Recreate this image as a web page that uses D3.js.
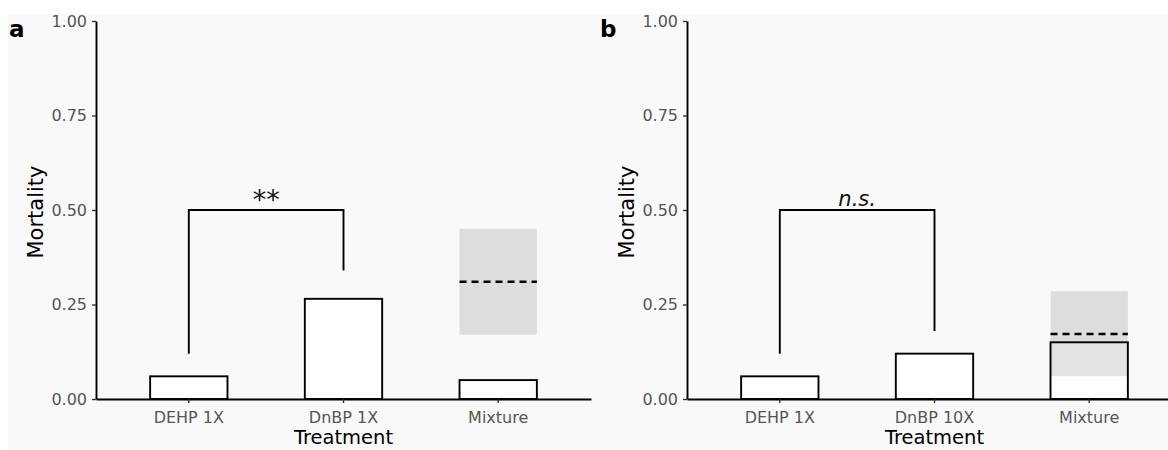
<!DOCTYPE html>
<html lang="en">
<head>
    <meta charset="UTF-8">
    <title>Mortality by treatment</title>
    <script src="https://d3js.org/d3.v7.min.js"></script>
    <style>
        body {
            margin: 0;
            background-color: #fff;
        }
        text {
            font-family: "DejaVu Sans", sans-serif;
        }
        .axis path, .axis line {
            stroke: #000;
            stroke-width: 1.9px;
        }
        .axis .tick line {
            stroke: #333;
            stroke-width: 1.4px;
        }
        .axis text {
            fill: #555;
            font-size: 16px;
        }
        .bar {
            fill: #fff;
            stroke: #000;
            stroke-width: 1.9px;
        }
        .bracket {
            fill: none;
            stroke: #000;
            stroke-width: 1.9px;
        }
    </style>
</head>
<body>
    <div id="chart"></div>

    <script>
    // Observed mortality per treatment
    const treatmentsA = ["DEHP 1X", "DnBP 1X", "Mixture"];
    const mortalityA = [0.06, 0.265, 0.05];
    const treatmentsB = ["DEHP 1X", "DnBP 10X", "Mixture"];
    const mortalityB = [0.06, 0.12, 0.15];

    // Predicted mixture mortality: [mean, lower, upper]
    const predictedA = [0.31, 0.17, 0.45];
    const predictedB = [0.172, 0.06, 0.285];

    // Significance brackets: [left leg end, right leg end, top]
    const bracketA = [0.12, 0.34, 0.50];
    const bracketB = [0.12, 0.18, 0.50];
    const signifLabels = ["**", "n.s."];

    const panelLabels = ["a", "b"];
    const yTicks = [0, 0.25, 0.50, 0.75, 1.00];

    // Layout of the figure
    const W = 1168, H = 450;
    const panelLeft = [96, 687];
    const panelWidth = 495;
    const plotTop = 21, plotBottom = 399;

    const svg = d3.select("#chart").append("svg")
        .attr("width", W)
        .attr("height", H);

    // light grey figure background
    svg.append("rect")
        .attr("x", 8).attr("y", 14)
        .attr("width", W - 8).attr("height", H - 14)
        .attr("fill", "#f9f9f9");

    const y = d3.scaleLinear().domain([0, 1]).range([plotBottom, plotTop]);

    drawPanel(0, treatmentsA, mortalityA, predictedA, bracketA);
    drawPanel(1, treatmentsB, mortalityB, predictedB, bracketB);

    function drawPanel(i, cats, vals, pred, bracket) {
        const x0 = panelLeft[i];
        const x = d3.scaleBand()
            .domain(cats)
            .range([x0, x0 + panelWidth])
            .paddingInner(0.5)
            .paddingOuter(0.35);
        const mid = c => x(c) + x.bandwidth() / 2;

        const g = svg.append("g");

        // Bars
        g.selectAll("rect.bar")
            .data(cats)
            .join("rect")
            .attr("class", "bar")
            .attr("x", d => x(d))
            .attr("width", x.bandwidth())
            .attr("y", (d, k) => y(vals[k]))
            .attr("height", (d, k) => y(0) - y(vals[k]));

        // Predicted interval for the mixture
        const mix = cats[cats.length - 1];
        g.append("rect")
            .attr("x", x(mix))
            .attr("width", x.bandwidth())
            .attr("y", y(pred[2]))
            .attr("height", y(pred[1]) - y(pred[2]))
            .attr("fill", "#000")
            .attr("fill-opacity", 0.11);

        g.append("line")
            .attr("x1", x(mix)).attr("x2", x(mix) + x.bandwidth())
            .attr("y1", y(pred[0])).attr("y2", y(pred[0]))
            .attr("stroke", "#000")
            .attr("stroke-width", 2.5)
            .attr("stroke-dasharray", "7,5");

        // Significance bracket
        const bx1 = mid(cats[0]), bx2 = mid(cats[1]);
        g.append("path")
            .attr("class", "bracket")
            .attr("d", `M ${bx1} ${y(bracket[0])} L ${bx1} ${y(bracket[2])}
                        L ${bx2} ${y(bracket[2])} L ${bx2} ${y(bracket[1])}`);

        g.append("text")
            .attr("x", (bx1 + bx2) / 2)
            .attr("y", i === 0 ? y(bracket[2]) - 1 : y(bracket[2]) - 4)
            .attr("text-anchor", "middle")
            .attr("font-size", i === 0 ? "27px" : "21px")
            .attr("font-style", i === 0 ? "normal" : "italic")
            .attr("fill", "#111")
            .text(signifLabels[i]);

        // Axes
        g.append("g")
            .attr("class", "axis")
            .attr("transform", `translate(${x0},0)`)
            .call(d3.axisLeft(y)
                .tickValues(yTicks)
                .tickFormat(d3.format(".2f"))
                .tickSize(4)
                .tickSizeOuter(0)
                .tickPadding(5));

        g.append("g")
            .attr("class", "axis")
            .attr("transform", `translate(0,${plotBottom})`)
            .call(d3.axisBottom(x)
                .tickSize(4)
                .tickSizeOuter(0)
                .tickPadding(9));

        // Axis titles
        g.append("text")
            .attr("transform", `translate(${x0 - 53},${(plotTop + plotBottom) / 2 + 2}) rotate(-90)`)
            .attr("text-anchor", "middle")
            .attr("font-size", "21px")
            .attr("fill", "#000")
            .text("Mortality");

        g.append("text")
            .attr("x", x0 + 495 / 2)
            .attr("y", 444)
            .attr("text-anchor", "middle")
            .attr("font-size", "19.5px")
            .attr("fill", "#000")
            .text("Treatment");

        // Panel letter
        g.append("text")
            .attr("x", x0 - 87)
            .attr("y", 37)
            .attr("font-size", "23px")
            .attr("font-weight", "bold")
            .attr("fill", "#000")
            .text(panelLabels[i]);
    }
    </script>
</body>
</html>
